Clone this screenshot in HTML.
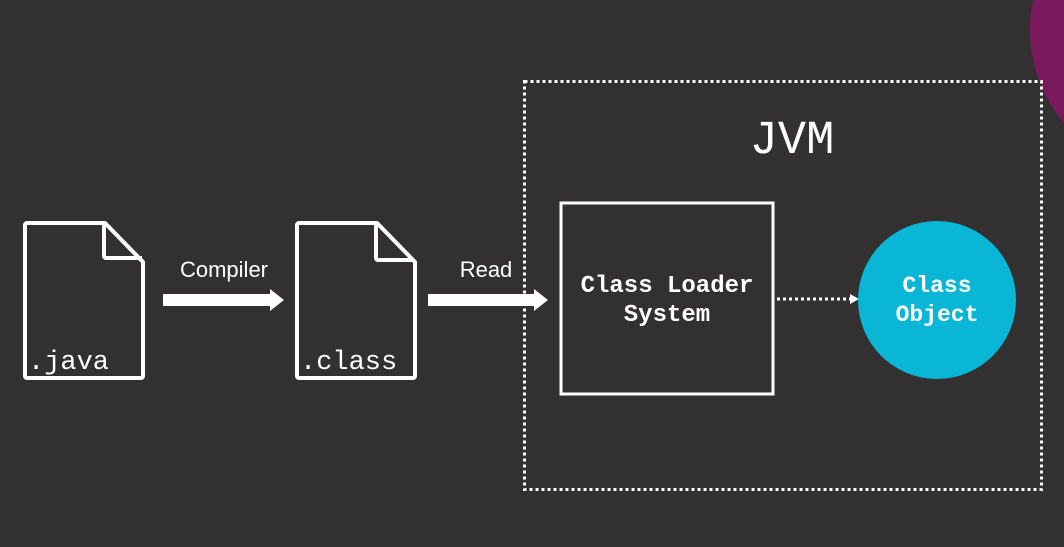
<!DOCTYPE html>
<html><head><style>
html,body{margin:0;padding:0;background:#323031;width:1064px;height:547px;overflow:hidden}
</style></head><body>
<svg width="1064" height="547" xmlns="http://www.w3.org/2000/svg" style="position:absolute;left:0;top:0">
<rect width="1064" height="547" fill="#323031"/>
<circle cx="1174" cy="30" r="144" fill="#7a1a5c"/>
<path d="M27 223 H105 L143 262 V376 a2 2 0 0 1 -2 2 H27 a2 2 0 0 1 -2 -2 V225 a2 2 0 0 1 2 -2 Z" fill="none" stroke="#fff" stroke-width="4" stroke-linejoin="round"/>
<path d="M104 224 V256 a2 2 0 0 0 2 2 H142" fill="none" stroke="#fff" stroke-width="4"/>
<text x="28" y="369" fill="#fff" font-family="Liberation Mono, monospace" font-size="27">.java</text>
<path d="M299 223 H377 L415 262 V376 a2 2 0 0 1 -2 2 H299 a2 2 0 0 1 -2 -2 V225 a2 2 0 0 1 2 -2 Z" fill="none" stroke="#fff" stroke-width="4" stroke-linejoin="round"/>
<path d="M376 224 V258 a2 2 0 0 0 2 2 H414" fill="none" stroke="#fff" stroke-width="4"/>
<text x="300" y="369" fill="#fff" font-family="Liberation Mono, monospace" font-size="27">.class</text>
<text x="224" y="277" fill="#fff" font-family="Liberation Sans, sans-serif" font-size="22" text-anchor="middle">Compiler</text>
<path d="M163 294 H270 V289 L284 300 L270 311 V306 H163 Z" fill="#fff"/>
<text x="486" y="277" fill="#fff" font-family="Liberation Sans, sans-serif" font-size="22" text-anchor="middle">Read</text>
<path d="M428 294 H534 V289 L548 300 L534 311 V306 H428 Z" fill="#fff"/>
<rect x="524.5" y="81.5" width="517" height="408" fill="none" stroke="#fff" stroke-width="3" stroke-dasharray="3 3"/>
<text x="792" y="153" fill="#fff" font-family="Liberation Mono, monospace" font-size="47" text-anchor="middle">JVM</text>
<rect x="561" y="203" width="212" height="191" fill="none" stroke="#fff" stroke-width="3"/>
<text x="667" y="292" fill="#fff" font-family="Liberation Mono, monospace" font-size="24" font-weight="bold" text-anchor="middle">Class Loader</text>
<text x="667" y="321" fill="#fff" font-family="Liberation Mono, monospace" font-size="24" font-weight="bold" text-anchor="middle">System</text>
<line x1="777" y1="299" x2="851" y2="299" stroke="#fff" stroke-width="3" stroke-dasharray="3 3"/>
<path d="M850 294 L859 299 L850 304 Z" fill="#fff"/>
<circle cx="937" cy="300" r="79" fill="#0ab6d6"/>
<text x="937" y="292" fill="#fff" font-family="Liberation Mono, monospace" font-size="23" font-weight="bold" text-anchor="middle">Class</text>
<text x="937" y="321" fill="#fff" font-family="Liberation Mono, monospace" font-size="23" font-weight="bold" text-anchor="middle">Object</text>
</svg>
</body></html>
